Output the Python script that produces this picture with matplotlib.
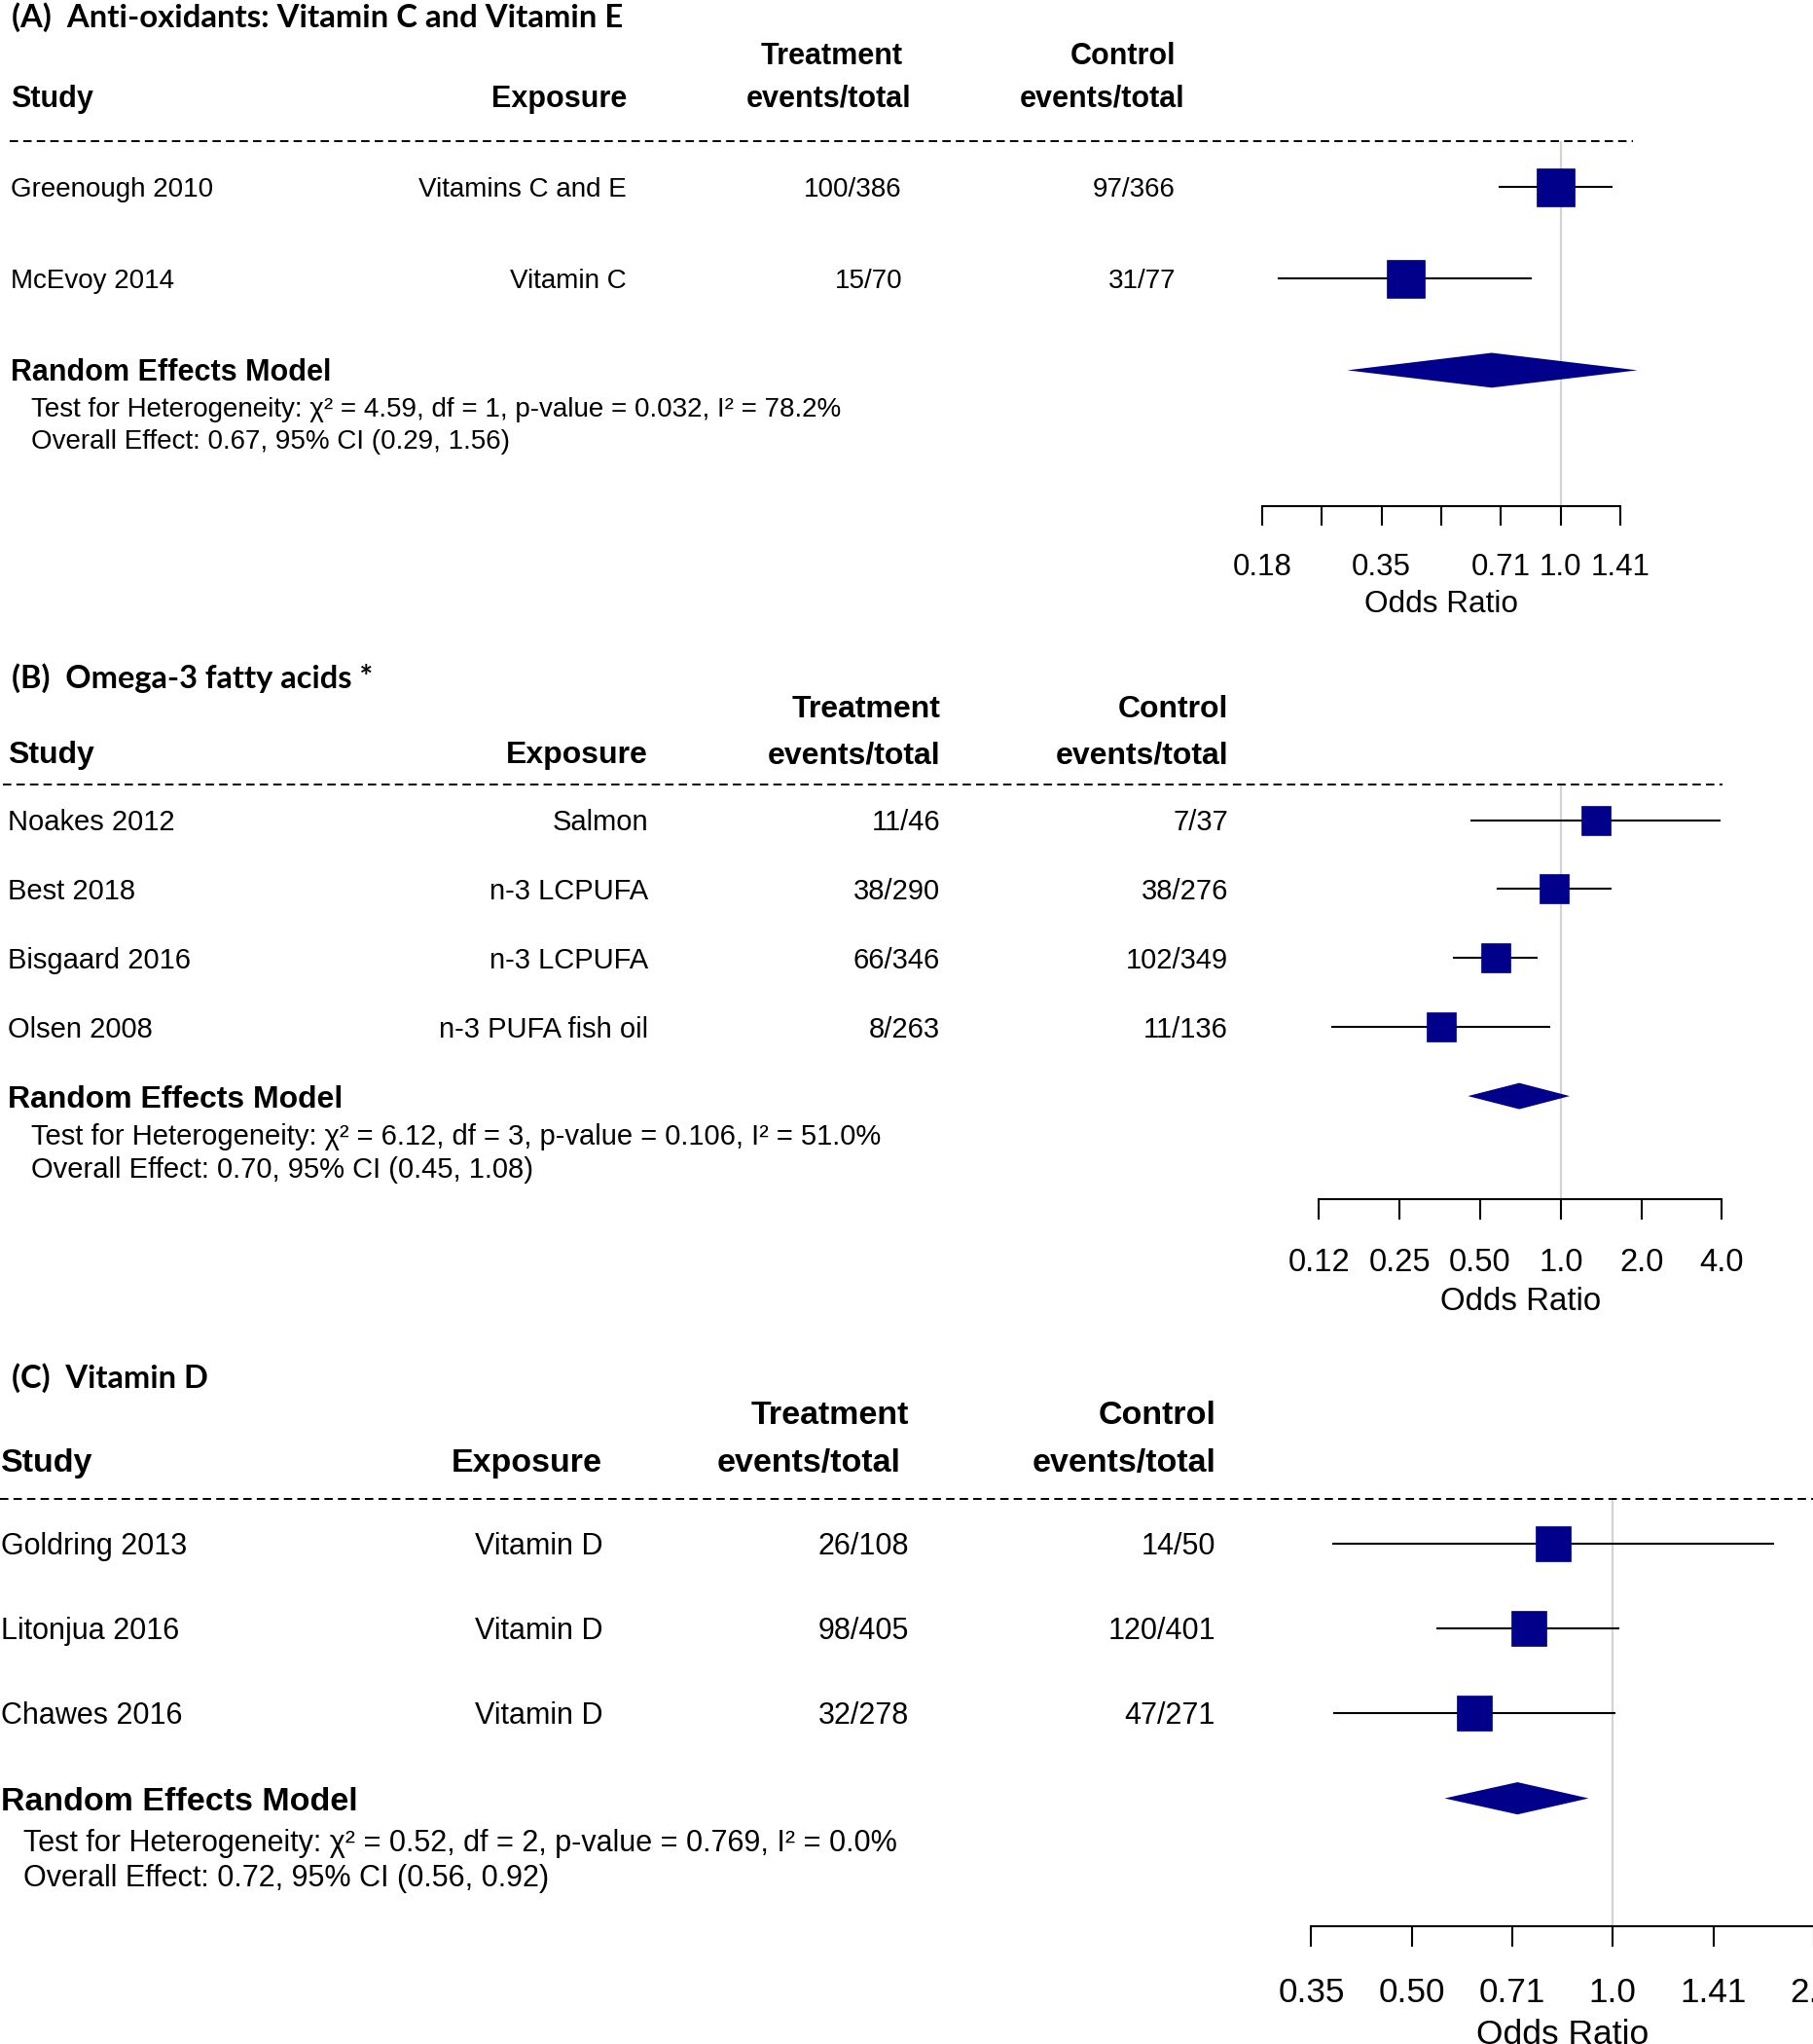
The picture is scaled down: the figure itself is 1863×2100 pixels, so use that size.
import matplotlib
matplotlib.use("Agg")
import matplotlib.pyplot as plt
from matplotlib.lines import Line2D
from matplotlib.ticker import NullLocator, FixedLocator, FixedFormatter

plt.rcParams['font.family'] = ['Liberation Sans', 'DejaVu Sans']
plt.rcParams['lines.scale_dashes'] = False

W, H, DPI = 1863, 2100, 100
NAVY = '#00008B'
REFGRAY = '#d3d3d3'

# ------------------------------------------------------------------ data
# Panel A
a_title = "(A)  Anti-oxidants: Vitamin C and Vitamin E"
a_study = ["Greenough 2010", "McEvoy 2014"]
a_expo = ["Vitamins C and E", "Vitamin C"]
a_treat = ["100/386", "15/70"]
a_ctrl = ["97/366", "31/77"]
a_or = [0.97, 0.405]
a_lo = [0.70, 0.195]
a_hi = [1.34, 0.84]
a_pool = [0.67, 0.29, 1.56]
a_het = "Test for Heterogeneity: \u03c7\u00b2 = 4.59, df = 1, p-value = 0.032, I\u00b2 = 78.2%"
a_eff = "Overall Effect: 0.67, 95% CI (0.29, 1.56)"
a_ticks = [0.1768, 0.25, 0.3536, 0.5, 0.7071, 1.0, 1.4142]
a_ticklab = ["0.18", "", "0.35", "", "0.71", "1.0", "1.41"]

# Panel B
b_title = "(B)  Omega-3 fatty acids *"
b_study = ["Noakes 2012", "Best 2018", "Bisgaard 2016", "Olsen 2008"]
b_expo = ["Salmon", "n-3 LCPUFA", "n-3 LCPUFA", "n-3 PUFA fish oil"]
b_treat = ["11/46", "38/290", "66/346", "8/263"]
b_ctrl = ["7/37", "38/276", "102/349", "11/136"]
b_or = [1.35, 0.944, 0.571, 0.357]
b_lo = [0.464, 0.582, 0.400, 0.140]
b_hi = [3.91, 1.53, 0.813, 0.909]
b_pool = [0.70, 0.45, 1.08]
b_het = "Test for Heterogeneity: \u03c7\u00b2 = 6.12, df = 3, p-value = 0.106, I\u00b2 = 51.0%"
b_eff = "Overall Effect: 0.70, 95% CI (0.45, 1.08)"
b_ticks = [0.125, 0.25, 0.5, 1.0, 2.0, 4.0]
b_ticklab = ["0.12", "0.25", "0.50", "1.0", "2.0", "4.0"]

# Panel C
c_title = "(C)  Vitamin D"
c_study = ["Goldring 2013", "Litonjua 2016", "Chawes 2016"]
c_expo = ["Vitamin D", "Vitamin D", "Vitamin D"]
c_treat = ["26/108", "98/405", "32/278"]
c_ctrl = ["14/50", "120/401", "47/271"]
c_or = [0.815, 0.748, 0.62]
c_lo = [0.381, 0.547, 0.383]
c_hi = [1.74, 1.02, 1.006]
c_pool = [0.72, 0.56, 0.92]
c_het = "Test for Heterogeneity: \u03c7\u00b2 = 0.52, df = 2, p-value = 0.769, I\u00b2 = 0.0%"
c_eff = "Overall Effect: 0.72, 95% CI (0.56, 0.92)"
c_ticks = [0.3536, 0.5, 0.7071, 1.0, 1.4142, 2.0]
c_ticklab = ["0.35", "0.50", "0.71", "1.0", "1.41", "2.0"]

# ------------------------------------------------------------------ layout (pixels)
LAYOUT = {
    'A': dict(title=(12, 16, 23.7), hdr=22, body=20, tick=22.5,
              treat_hdr_y=55, hdr_y=99, study_x=11, expo_x=644, treat_x=927, ctrl_x=1208,
              treat_hdr_x=928, ctrl_hdr_x=1208, ev_t_x=936, ev_c_x=1217,
              dash_y=145, dash_x=(10, 1678), axis_y=520, row0=192, dy=94.2, sq=39,
              ax_x=(1296.8, 1665.2), re_x=11, het_x=32, het_y=418, eff_y=451,
              ticklen=20, tickpad=20.4, labpad=5.5, diam_h=0.19),
    'B': dict(title=(12, 695, 23.5), hdr=23, body=21, tick=23.6,
              treat_hdr_y=726, hdr_y=773, study_x=8, expo_x=666, treat_x=966, ctrl_x=1262,
              treat_hdr_x=966, ctrl_hdr_x=1262, ev_t_x=966, ev_c_x=1262,
              dash_y=806, dash_x=(3, 1770), axis_y=1232, row0=842.5, dy=70.9, sq=30,
              ax_x=(1355.4, 1769.4), re_x=8, het_x=32, het_y=1166, eff_y=1200,
              ticklen=21, tickpad=20.7, labpad=6.5, diam_h=0.19),
    'C': dict(title=(12, 1414, 23.5), hdr=24.5, body=22, tick=25.3,
              treat_hdr_y=1451, hdr_y=1500, study_x=1, expo_x=619, treat_x=934, ctrl_x=1249,
              treat_hdr_x=934, ctrl_hdr_x=1249, ev_t_x=926, ev_c_x=1250,
              dash_y=1540, dash_x=(0, 1863), axis_y=1979, row0=1586, dy=87.2, sq=36,
              ax_x=(1347.4, 1863.9), re_x=1, het_x=24, het_y=1891, eff_y=1927,
              ticklen=21, tickpad=22.3, labpad=7.0, diam_h=0.19),
}

fig = plt.figure(figsize=(W / DPI, H / DPI), dpi=DPI)
fig.patch.set_facecolor('white')


def em(pt):
    return pt * DPI / 72.0


def put(x, yc, s, size, ha='left', weight='normal', family=None):
    yb = yc + 0.358 * em(size)
    kw = {}
    if family:
        kw['family'] = family
    fig.text(x / W, 1 - yb / H, s, ha=ha, va='baseline', fontsize=size,
             fontweight=weight, **kw)


def panel(L, title, study, expo, treat, ctrl, orr, lo, hi, pool, het, eff, ticks, ticklab):
    tx, ty, tsz = L['title']
    put(tx, ty, title, tsz, weight='bold', family=['Lato', 'DejaVu Sans'])
    hs, bs = L['hdr'], L['body']
    put(L['treat_hdr_x'], L['treat_hdr_y'], "Treatment", hs, ha='right', weight='bold')
    put(L['ctrl_hdr_x'], L['treat_hdr_y'], "Control", hs, ha='right', weight='bold')
    put(L['study_x'], L['hdr_y'], "Study", hs, weight='bold')
    put(L['expo_x'], L['hdr_y'], "Exposure", hs, ha='right', weight='bold')
    put(L['ev_t_x'], L['hdr_y'], "events/total", hs, ha='right', weight='bold')
    put(L['ev_c_x'], L['hdr_y'], "events/total", hs, ha='right', weight='bold')
    # dashed separator
    y = 1 - L['dash_y'] / H
    fig.add_artist(Line2D([L['dash_x'][0] / W, L['dash_x'][1] / W], [y, y],
                          transform=fig.transFigure, color='black', lw=1.4,
                          linestyle=(0, (6.2, 3.8))))
    n = len(study)
    for i in range(n):
        yc = L['row0'] + i * L['dy']
        put(L['study_x'], yc, study[i], bs)
        put(L['expo_x'], yc, expo[i], bs, ha='right')
        put(L['treat_x'], yc, treat[i], bs, ha='right')
        put(L['ctrl_x'], yc, ctrl[i], bs, ha='right')
    put(L['re_x'], L['row0'] + n * L['dy'], "Random Effects Model", hs, weight='bold')
    put(L['het_x'], L['het_y'], het, bs)
    put(L['het_x'], L['eff_y'], eff, bs)

    # forest axes
    x0, x1 = L['ax_x']
    top, bot = L['dash_y'], L['axis_y']
    ax = fig.add_axes([x0 / W, 1 - bot / H, (x1 - x0) / W, (bot - top) / H])
    ax.set_xscale('log', base=2)
    ax.set_xlim(ticks[0], ticks[-1])
    ax.set_ylim((bot - L['row0']) / L['dy'], (top - L['row0']) / L['dy'])
    ax.patch.set_alpha(0)
    ax.axvline(1.0, color=REFGRAY, lw=1.6, zorder=0)
    ms = L['sq'] * 72.0 / DPI
    for i in range(n):
        ax.plot([lo[i], hi[i]], [i, i], color='black', lw=1.5, clip_on=False, zorder=2)
        ax.plot([orr[i]], [i], marker='s', ms=ms, color=NAVY, mec=NAVY, mew=0.5,
                linestyle='none', clip_on=False, zorder=3)
    e, l, h = pool
    dh = L['diam_h']
    ax.fill([l, e, h, e], [n, n - dh, n, n + dh], color=NAVY, lw=0, clip_on=False, zorder=3)
    for s in ('top', 'left', 'right'):
        ax.spines[s].set_visible(False)
    ax.spines['bottom'].set_linewidth(1.5)
    ax.spines['bottom'].set_bounds(ticks[0], ticks[-1])
    ax.xaxis.set_major_locator(FixedLocator(ticks))
    ax.xaxis.set_major_formatter(FixedFormatter(ticklab))
    ax.xaxis.set_minor_locator(NullLocator())
    ax.set_yticks([])
    ax.tick_params(axis='x', direction='out', length=L['ticklen'] * 72 / DPI,
                   width=1.5, pad=L['tickpad'], labelsize=L['tick'])
    ax.set_xlabel("Odds Ratio", fontsize=L['tick'] + 0.2, labelpad=L['labpad'])
    return ax


panel(LAYOUT['A'], a_title, a_study, a_expo, a_treat, a_ctrl, a_or, a_lo, a_hi,
      a_pool, a_het, a_eff, a_ticks, a_ticklab)
panel(LAYOUT['B'], b_title, b_study, b_expo, b_treat, b_ctrl, b_or, b_lo, b_hi,
      b_pool, b_het, b_eff, b_ticks, b_ticklab)
panel(LAYOUT['C'], c_title, c_study, c_expo, c_treat, c_ctrl, c_or, c_lo, c_hi,
      c_pool, c_het, c_eff, c_ticks, c_ticklab)

fig.savefig("out.png", dpi=DPI, facecolor='white')
